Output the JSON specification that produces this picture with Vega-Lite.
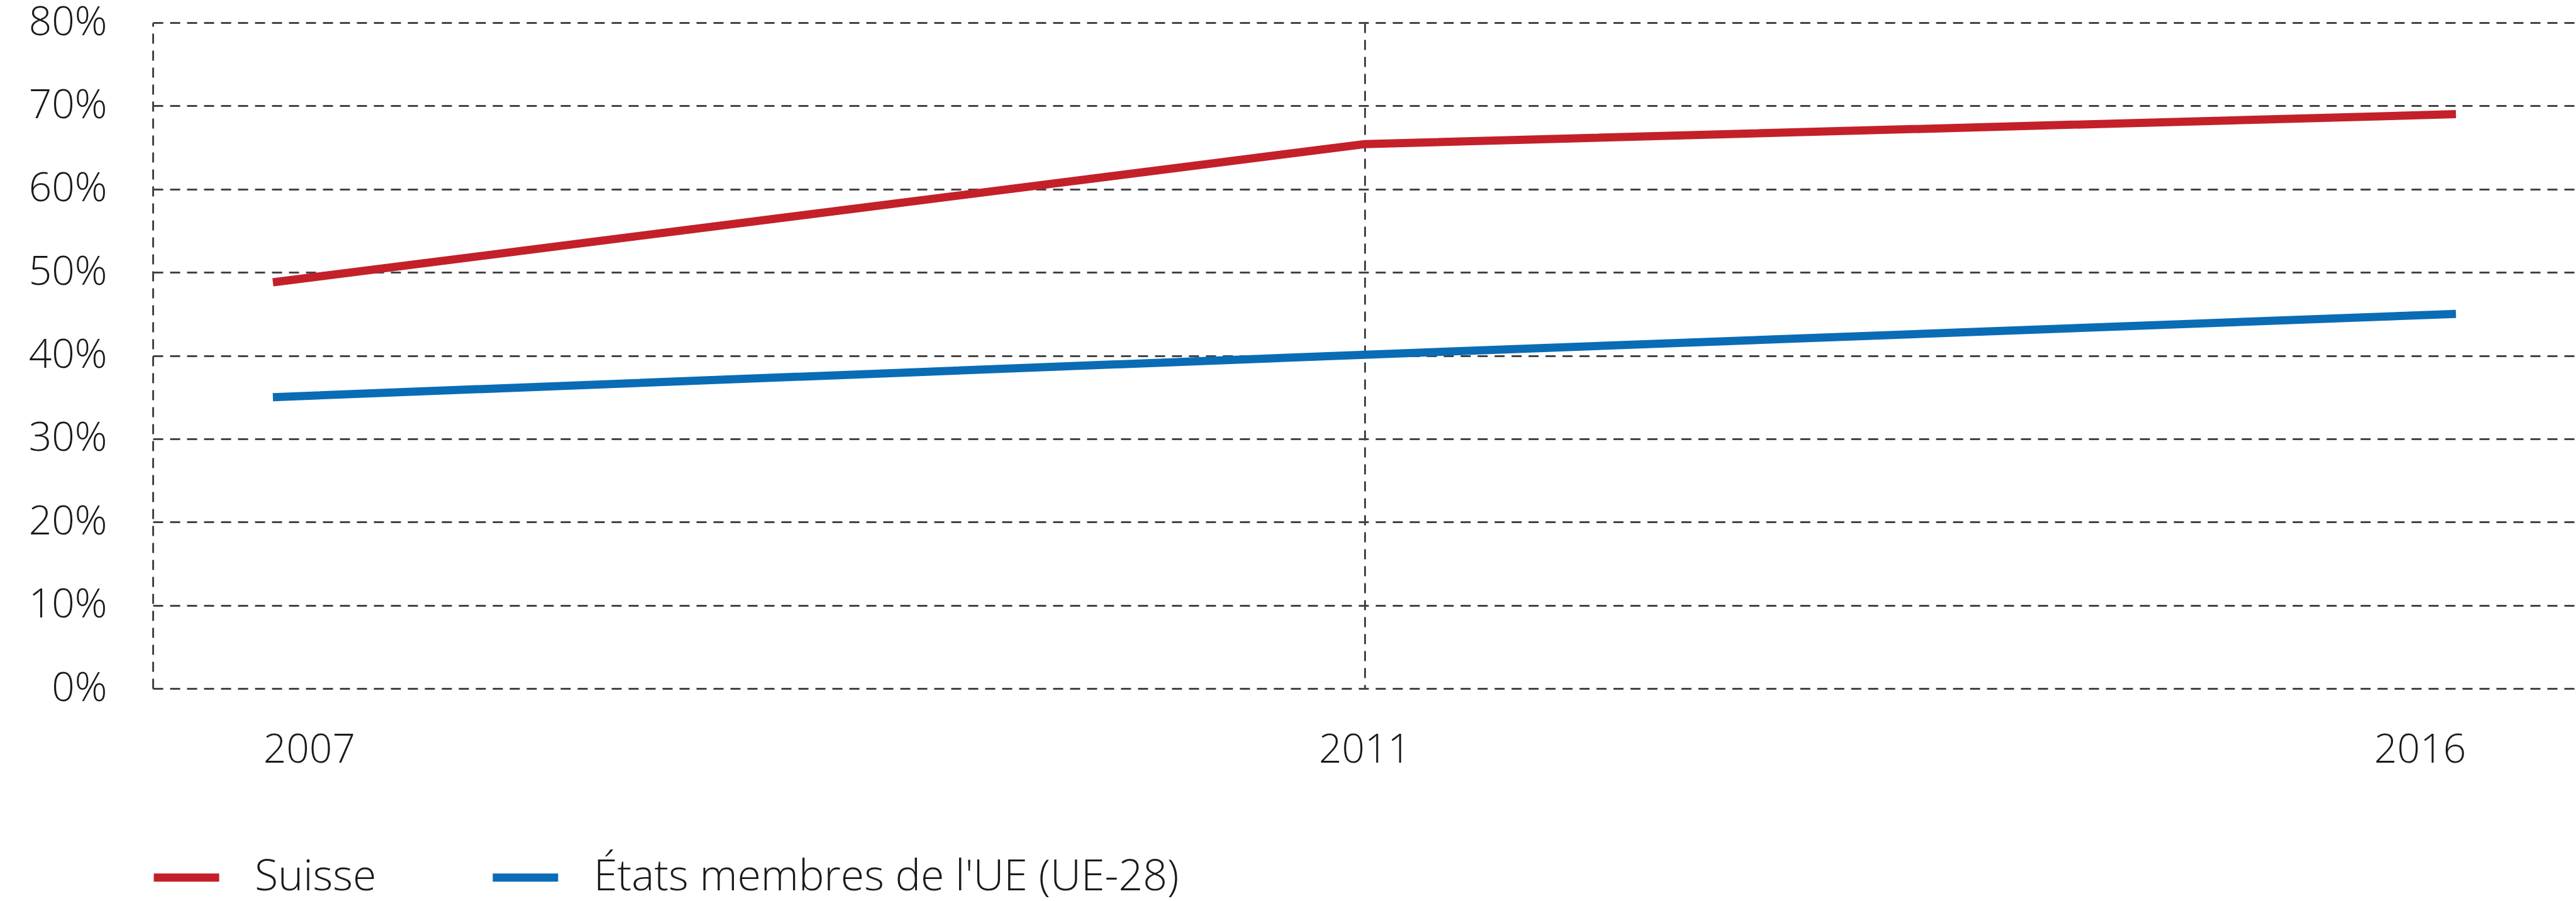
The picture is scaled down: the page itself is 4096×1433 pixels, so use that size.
{
  "$schema": "https://vega.github.io/schema/vega-lite/v6.json",
  "autosize": {"type": "none"},
  "padding": {"left": 243, "top": 36, "right": 0, "bottom": 338},
  "width": 3853,
  "height": 1059,
  "background": "white",
  "config": {
    "view": {"stroke": null},
    "font": "Open Sans",
    "axis": {"labelFont": "Open Sans", "labelColor": "#1a1a1a", "labelFontWeight": 300},
    "legend": {"labelFont": "Open Sans", "labelColor": "#1a1a1a", "labelFontWeight": 300}
  },
  "data": {
    "values": [
      {"year": "2007", "pays": "Suisse", "part": 0.488},
      {"year": "2011", "pays": "Suisse", "part": 0.654},
      {"year": "2016", "pays": "Suisse", "part": 0.690},
      {"year": "2007", "pays": "États membres de l'UE (UE-28)", "part": 0.350},
      {"year": "2011", "pays": "États membres de l'UE (UE-28)", "part": 0.401},
      {"year": "2016", "pays": "États membres de l'UE (UE-28)", "part": 0.450}
    ]
  },
  "layer": [
    {
      "mark": {"type": "point", "opacity": 0},
      "encoding": {
        "x": {
          "field": "year", "type": "ordinal",
          "scale": {"type": "point", "padding": 0.148},
          "axis": {
            "title": null, "labelAngle": 0, "labelFontSize": 64,
            "labelBaseline": "middle", "labelPadding": 98,
            "ticks": false, "tickSize": 0, "domain": false,
            "grid": true, "gridColor": "#444444", "gridWidth": 3, "gridDash": [16, 11],
            "gridOpacity": {"condition": {"test": "datum.value === '2011'", "value": 1}, "value": 0}
          }
        },
        "y": {"field": "part", "type": "quantitative"}
      }
    },
    {
      "mark": {"type": "line", "strokeWidth": 13, "strokeCap": "butt"},
      "encoding": {
        "x": {
          "field": "year", "type": "ordinal",
          "scale": {"type": "point", "padding": 0.11},
          "axis": null
        },
        "y": {
          "field": "part", "type": "quantitative",
          "scale": {"domain": [0, 0.8], "nice": false, "zero": true},
          "axis": {
            "title": null, "format": ".0%", "values": [0, 0.1, 0.2, 0.3, 0.4, 0.5, 0.6, 0.7, 0.8],
            "labelFontSize": 64, "labelPadding": 73, "ticks": false, "tickSize": 0,
            "domain": true, "domainColor": "#444444", "domainWidth": 3, "domainDash": [16, 11],
            "grid": true, "gridColor": "#444444", "gridWidth": 3, "gridDash": [16, 11]
          }
        },
        "color": {
          "field": "pays", "type": "nominal",
          "scale": {"domain": ["Suisse", "États membres de l'UE (UE-28)"], "range": ["#c4202a", "#0a6cb5"]},
          "legend": {
            "title": null, "orient": "none", "direction": "horizontal",
            "legendX": -5, "legendY": 1301,
            "symbolType": "stroke", "symbolSize": 10816, "symbolStrokeWidth": 13,
            "labelFontSize": 68, "labelOffset": 50, "columnPadding": 158,
            "labelLimit": 2000
          }
        }
      }
    }
  ],
  "resolve": {"scale": {"x": "independent"}, "axis": {"x": "independent"}}
}
